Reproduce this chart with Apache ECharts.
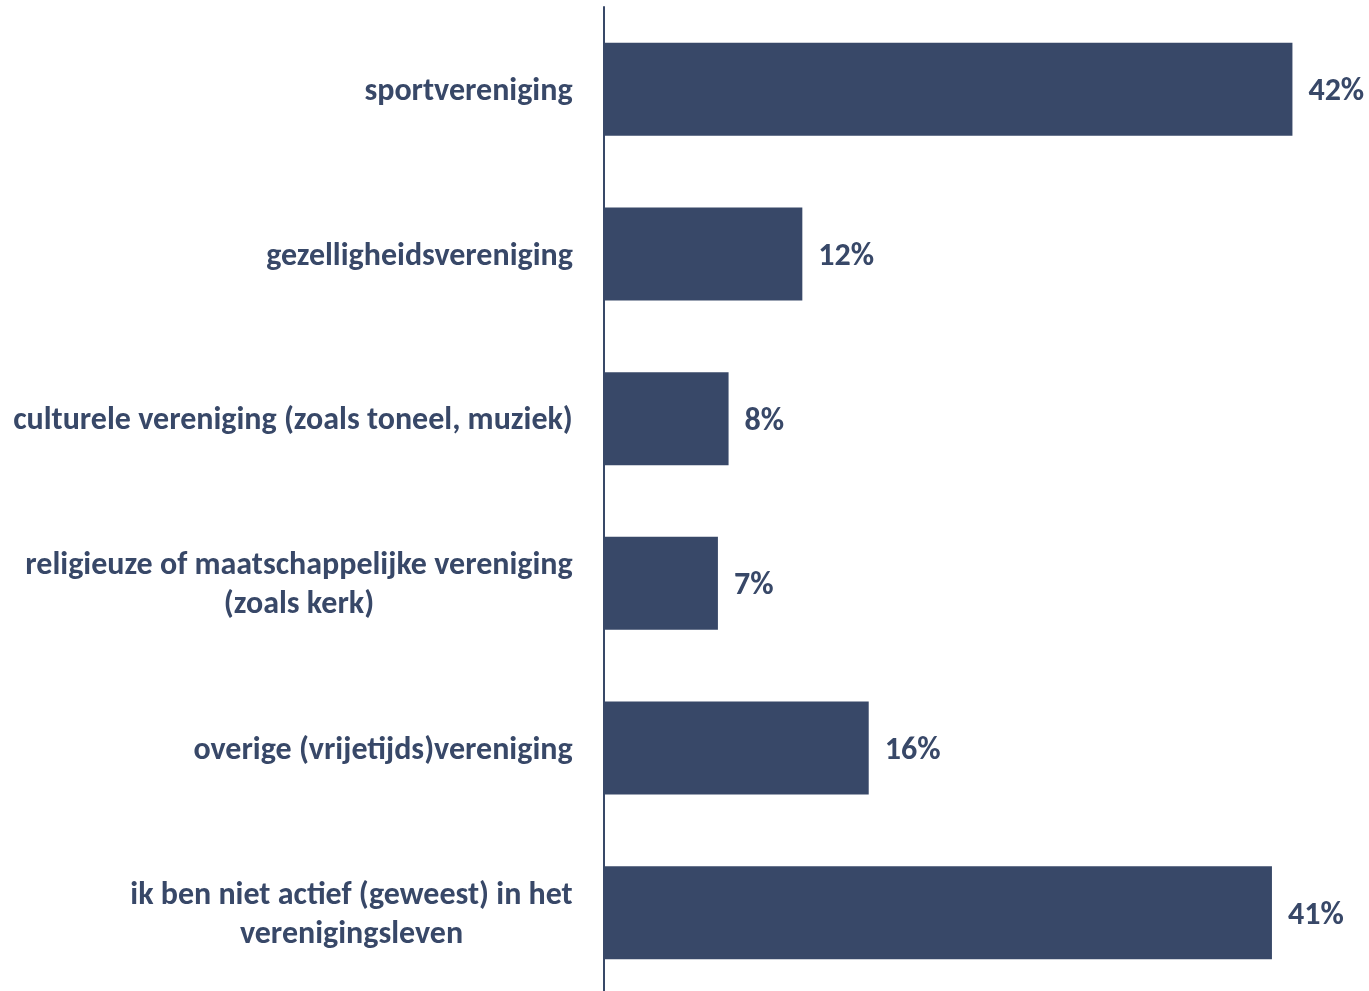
<!DOCTYPE html>
<html>
<head>
<meta charset="utf-8">
<script src="https://cdn.jsdelivr.net/npm/echarts@6/dist/echarts.min.js"></script>
<style>
html,body{margin:0;padding:0;background:#fff;}
#chart{width:1369px;height:991px;}
</style>
</head>
<body>
<div id="chart"></div>
<script>
var categories = [
  "sportvereniging",
  "gezelligheidsvereniging",
  "culturele vereniging (zoals toneel, muziek)",
  "religieuze of maatschappelijke vereniging\n(zoals kerk)",
  "overige (vrijetijds)vereniging",
  "ik ben niet actief (geweest) in het\nverenigingsleven"
];
var values = [42.0, 12.1, 7.6, 6.95, 16.15, 40.75];

var FONT_FAMILY = "Carlito, Lato, 'Open Sans', sans-serif";
var FONT_SIZE = 32;
var COLOR = "#384868";

var ctx = document.createElement("canvas").getContext("2d");
ctx.font = "bold " + FONT_SIZE + "px " + FONT_FAMILY;
var rich = {};
categories.forEach(function (c, i) {
  var w = 0;
  c.split("\n").forEach(function (line) { w = Math.max(w, ctx.measureText(line).width); });
  rich["l" + i] = {
    width: Math.ceil(w) + 2,
    align: "center",
    fontFamily: FONT_FAMILY,
    fontSize: FONT_SIZE,
    fontWeight: "bold",
    color: COLOR,
    lineHeight: 39
  };
});

var chart = echarts.init(document.getElementById("chart"), null, {renderer: "canvas"});
chart.setOption({
  animation: false,
  grid: {left: 604, right: 11, top: 7, height: 988, containLabel: false, outerBoundsMode: "none"},
  xAxis: {
    type: "value", min: 0, max: 46,
    show: false
  },
  yAxis: {
    type: "category",
    data: categories,
    inverse: true,
    axisLine: {show: true, lineStyle: {color: COLOR, width: 2}},
    axisTick: {show: false},
    axisLabel: {
      margin: 30,
      align: "right",
      padding: [5, 0, 0, 0],
      formatter: function (v, i) {
        return v.split("\n").map(function (line) { return "{l" + i + "|" + line + "}"; }).join("\n");
      },
      rich: rich
    }
  },
  series: [{
    type: "bar",
    data: values,
    barWidth: 93,
    itemStyle: {color: COLOR},
    label: {
      show: true,
      position: "right",
      distance: 16,
      offset: [0, 3],
      formatter: function (p) { return Math.round(p.value) + "%"; },
      fontFamily: FONT_FAMILY,
      fontSize: FONT_SIZE,
      fontWeight: "bold",
      color: COLOR
    }
  }]
});
</script>
</body>
</html>
